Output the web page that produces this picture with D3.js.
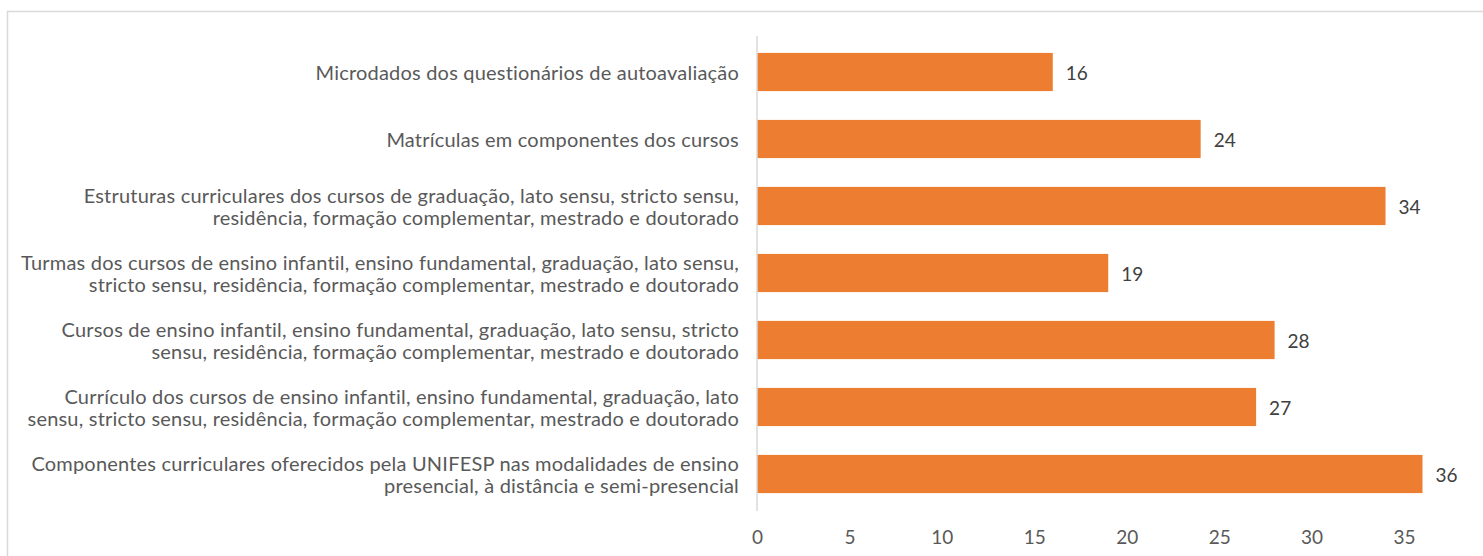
<!DOCTYPE html>
<html>
<head>
<meta charset="utf-8">
<script src="https://cdn.jsdelivr.net/npm/d3@7"></script>
<style>
  body { margin: 0; background: #fff; }
  svg { display: block; }
</style>
</head>
<body>
<script>
// categories, top to bottom, already split into the lines shown
const categories = [
  ['Microdados dos questionários de autoavaliação'],
  ['Matrículas em componentes dos cursos'],
  ['Estruturas curriculares dos cursos de graduação, lato sensu, stricto sensu,', 'residência, formação complementar, mestrado e doutorado'],
  ['Turmas dos cursos de ensino infantil, ensino fundamental, graduação, lato sensu,', 'stricto sensu, residência, formação complementar, mestrado e doutorado'],
  ['Cursos de ensino infantil, ensino fundamental, graduação, lato sensu, stricto', 'sensu, residência, formação complementar, mestrado e doutorado'],
  ['Currículo dos cursos de ensino infantil, ensino fundamental, graduação, lato', 'sensu, stricto sensu, residência, formação complementar, mestrado e doutorado'],
  ['Componentes curriculares oferecidos pela UNIFESP nas modalidades de ensino', 'presencial, à distância e semi-presencial']
];
const values = [16, 24, 34, 19, 28, 27, 36];
const ticks = [0, 5, 10, 15, 20, 25, 30, 35];

const width = 1483, height = 556;
const option =
  {
    font: { family: 'Lato, "Open Sans", sans-serif', size: 20, color: '#595959' },
    bar: { color: '#ED7D31' },
    axis: { color: '#d9d9d9' },
    left: 757, right: 1404, top: 38.5, bottom: 507.5
  };

const svg = d3.select('body').append('svg')
  .attr('width', width)
  .attr('height', height);

// chart frame
svg.append('rect')
  .attr('x', 7.5)
  .attr('y', 11.5)
  .attr('width', width)
  .attr('height', height)
  .attr('fill', 'none')
  .attr('stroke', '#d9d9d9')
  .attr('stroke-width', 1.5);

const x = d3.scaleLinear().domain([0, 35]).range([option.left, option.right]);
const y = d3.scaleBand()
  .domain(d3.range(categories.length))
  .range([option.top, option.bottom])
  .paddingInner(0.43)
  .paddingOuter(0.215);

// bars
svg.append('g').selectAll('rect')
  .data(values)
  .join('rect')
    .attr('x', x(0))
    .attr('y', (d, i) => y(i))
    .attr('width', d => x(d) - x(0))
    .attr('height', y.bandwidth())
    .attr('fill', option.bar.color);

// value labels
svg.append('g').selectAll('text')
  .data(values)
  .join('text')
    .text(d => d)
    .attr('x', d => x(d) + 13)
    .attr('y', (d, i) => y(i) + y.bandwidth() / 2)
    .attr('dominant-baseline', 'central')
    .attr('font-family', option.font.family)
    .attr('font-size', option.font.size - 1)
    .attr('fill', '#404040');

// category labels
const cat = svg.append('g').selectAll('text')
  .data(categories)
  .join('text')
    .attr('text-anchor', 'end')
    .attr('font-family', option.font.family)
    .attr('font-size', option.font.size)
    .attr('letter-spacing', 0.2)
    .attr('fill', option.font.color);

cat.selectAll('tspan')
  .data((d, i) => d.map((line, j) => ({ line, j, n: d.length, i })))
  .join('tspan')
    .text(d => d.line)
    .attr('x', 739)
    .attr('y', d => y(d.i) + y.bandwidth() / 2 + (d.j - (d.n - 1) / 2) * 22)
    .attr('dominant-baseline', 'central');

// vertical axis line
svg.append('line')
  .attr('x1', x(0)).attr('x2', x(0))
  .attr('y1', 36).attr('y2', 511)
  .attr('stroke', option.axis.color)
  .attr('stroke-width', 1.5);

// x axis tick labels
const xAxis = svg.append('g')
  .attr('transform', `translate(0 ${ 530 })`)
  .call(d3.axisBottom(x).tickValues(ticks).tickSize(0).tickPadding(0));

xAxis.select('.domain').remove();
xAxis.selectAll('text')
  .attr('font-family', option.font.family)
  .attr('font-size', option.font.size - 1)
  .attr('fill', option.font.color);
</script>
</body>
</html>
